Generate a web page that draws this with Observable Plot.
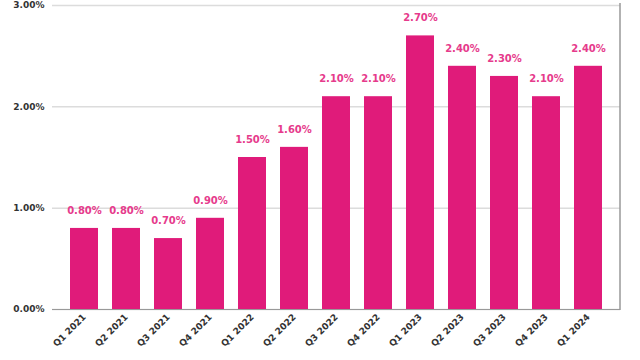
<!DOCTYPE html>
<html>
<head>
<meta charset="utf-8">
<script src="https://cdn.jsdelivr.net/npm/d3@7"></script>
<script src="https://cdn.jsdelivr.net/npm/@observablehq/plot@0.6"></script>
<style>
  html, body { margin: 0; padding: 0; background: #fff; }
  #chart { width: 640px; height: 360px; }
</style>
</head>
<body>
<div id="chart"></div>
<script>
const quarters = ["Q1 2021","Q2 2021","Q3 2021","Q4 2021","Q1 2022","Q2 2022","Q3 2022","Q4 2022","Q1 2023","Q2 2023","Q3 2023","Q4 2023","Q1 2024"];
const values = [0.8, 0.8, 0.7, 0.9, 1.5, 1.6, 2.1, 2.1, 2.7, 2.4, 2.3, 2.1, 2.4];
const yTicks = [0, 1, 2, 3];

const data = quarters.map((q, i) => ({quarter: q, value: values[i]}));
const barColor = "#e01b7a";
const labelColor = "#e63b8c";
const fmt = v => v.toFixed(2) + "%";

const chart = Plot.plot({
  width: 640,
  height: 360,
  marginLeft: 52,
  marginRight: 20,
  marginTop: 5,
  marginBottom: 51,
  style: {fontFamily: "'DejaVu Sans', sans-serif", fontSize: "9px", fontWeight: "bold", color: "#333", background: "#fff"},
  x: {domain: quarters, padding: 0.34, label: null},
  y: {domain: [0, 3], label: null},
  marks: [
    Plot.gridY(yTicks, {stroke: "#dcdcdc", strokeOpacity: 1, strokeWidth: 1.5}),
    Plot.axisY(yTicks, {tickSize: 0, tickPadding: 8, tickFormat: fmt, fill: "#333", fontWeight: "bold", fontSize: 9}),
    Plot.axisX({tickSize: 0, tickRotate: -45, tickPadding: 6, fill: "#333", fontWeight: "bold", fontSize: 9}),
    Plot.barY(data, {x: "quarter", y: "value", fill: barColor}),
    Plot.ruleY([0], {stroke: "#999", strokeWidth: 1.2}),
    Plot.text(data, {x: "quarter", y: "value", text: d => fmt(d.value), dy: -18, fill: labelColor, fontWeight: "bold", fontSize: 10})
  ]
});

const xs = chart.scale("x");
const ys = chart.scale("y");
const right = xs.range[1];
d3.select(chart).append("line")
  .attr("x1", right).attr("x2", right)
  .attr("y1", ys.range[1] - 2).attr("y2", ys.range[0] + 1)
  .attr("stroke", "#999").attr("stroke-width", 1.5);

document.getElementById("chart").append(chart);
</script>
</body>
</html>
